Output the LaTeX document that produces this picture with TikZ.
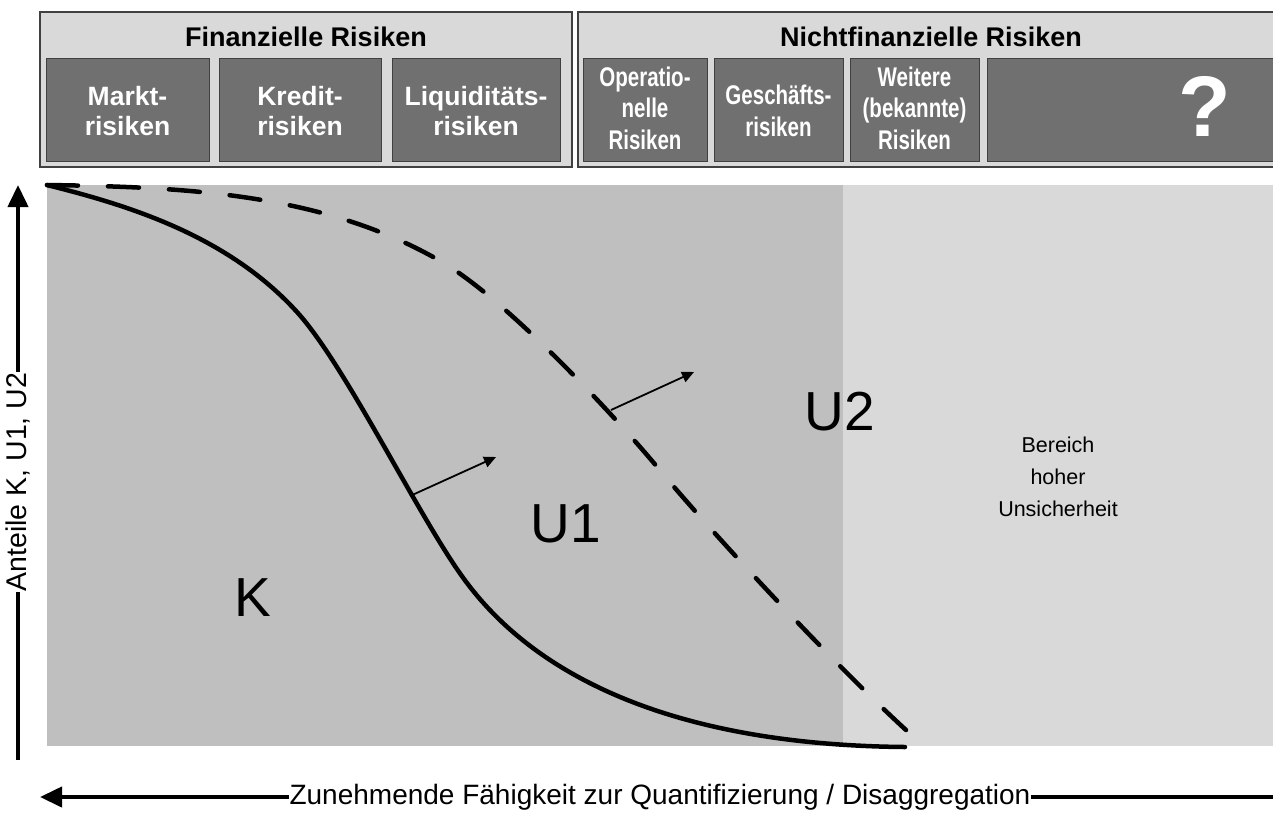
\documentclass[tikz,border=0pt]{standalone}
\usepackage{fontspec}
\setmainfont{Liberation Sans}
\usetikzlibrary{arrows.meta}
\definecolor{lightbg}{HTML}{D9D9D9}
\definecolor{midbg}{HTML}{BFBFBF}
\definecolor{boxdark}{HTML}{707070}
\definecolor{edge}{HTML}{404040}
\newcommand{\narrow}[1]{\scalebox{0.76}[1]{#1}}
\tikzset{
  group/.style={draw=edge, line width=1.2pt, fill=lightbg},
  riskbox/.style={draw=edge, line width=1pt, fill=boxdark},
  risktext/.style={text=white, font=\fontsize{26.5}{30.5}\selectfont\bfseries, align=center},
  risktextn/.style={text=white, font=\fontsize{27}{31.5}\selectfont\bfseries, align=center},
  headtext/.style={font=\fontsize{27}{30}\selectfont\bfseries},
  curvesolid/.style={line width=4.5pt, line cap=round, line join=round},
  curvedash/.style={line width=4.5pt, line cap=round, dash pattern=on 31pt off 30pt},
  shiftarrow/.style={line width=1.8pt, -{Triangle[length=12pt,width=11pt]}},
  axisarrow/.style={line width=4pt, -{Triangle[length=22pt,width=20pt]}},
  biglabel/.style={font=\fontsize{55}{60}\selectfont},
}
\begin{document}
\begin{tikzpicture}[x=1pt,y=-1pt]
\useasboundingbox (0,0) rectangle (1273,812);
% plot area
\fill[midbg] (47,185) rectangle (843,746);
\fill[lightbg] (843,185) rectangle (1273,746);
% top groups
\draw[group] (40,12) rectangle (572,167);
\draw[group] (578,12) rectangle (1280,167);
\node[headtext] (hfin) at (306,37) {Finanzielle Risiken};
\node[headtext] (hnon) at (931,37) {Nichtfinanzielle Risiken};
\draw[riskbox] (46,58) rectangle (209,161);
\draw[riskbox] (219,58) rectangle (381,161);
\draw[riskbox] (392,58) rectangle (560,161);
\draw[riskbox] (583,58) rectangle (707,161);
\draw[riskbox] (714,58) rectangle (843,161);
\draw[riskbox] (850,58) rectangle (979,161);
\draw[riskbox] (987,58) rectangle (1280,161);
\node[risktext] (markt) at (127.5,111) {Markt-\\risiken};
\node[risktext] (kredit) at (300,111) {Kredit-\\risiken};
\node[risktext] (liqu) at (476,111) {Liquiditäts-\\risiken};
\node[risktextn] (oper) at (645,108) {\narrow{Operatio-}\\\narrow{nelle}\\\narrow{Risiken}};
\node[risktextn] (gesch) at (778.5,111) {\narrow{Geschäfts-}\\\narrow{risiken}};
\node[risktextn] (weit) at (914.5,108) {\narrow{Weitere}\\\narrow{(bekannte)}\\\narrow{Risiken}};
\node[risktext, font=\fontsize{86}{86}\selectfont\bfseries] (qm) at (1205,106) {?};
% curves
\coordinate (start) at (47,185);
\coordinate (dend) at (906,730);
\coordinate (send) at (905,747);
\draw[curvedash] (start) .. controls (180,187) and (322,192) .. (442,262)
  .. controls (510,302) and (620,422) .. (658,468)
  .. controls (718,540) and (836,666) .. (dend);
\draw[curvesolid] (start) .. controls (127,205) and (227,235) .. (297,312)
  .. controls (347,367) and (422,524) .. (467,583)
  .. controls (540,680) and (680,745) .. (send);
% shift arrows
\coordinate (s1) at (410,496);
\coordinate (e1) at (496,457);
\coordinate (s2) at (611,410);
\coordinate (e2) at (694,372);
\draw[shiftarrow] (s1) -- (e1);
\draw[shiftarrow] (s2) -- (e2);
% labels
\node[biglabel] (K) at (253,598) {K};
\node[biglabel] (U1) at (566,524) {U1};
\node[biglabel] (U2) at (840,412) {U2};
\node[font=\fontsize{21.5}{32}\selectfont, align=center] (unc) at (1058,477) {Bereich\\hoher\\Unsicherheit};
% axes
\coordinate (yb) at (18,760);
\coordinate (yt) at (18,185);
\draw[axisarrow] (yb) -- (yt);
\node[rotate=90, fill=white, inner xsep=1pt, inner ysep=2pt, font=\fontsize{28.5}{30}\selectfont] (ylab) at (18,482) {Anteile K, U1, U2};
\coordinate (xr) at (1273,797);
\coordinate (xl) at (40,797);
\draw[axisarrow] (xr) -- (xl);
\node[fill=white, inner xsep=1pt, inner ysep=2pt, font=\fontsize{28}{30}\selectfont] (xlab) at (660,797) {Zunehmende Fähigkeit zur Quantifizierung / Disaggregation};
\end{tikzpicture}
\end{document}
